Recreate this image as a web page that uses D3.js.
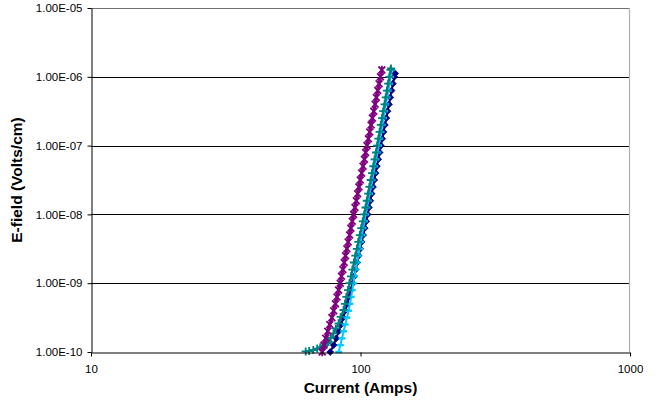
<!DOCTYPE html>
<html>
<head>
<meta charset="utf-8">
<script src="https://d3js.org/d3.v7.min.js"></script>
<style>
body { margin: 0; background: #fff; }
svg { font-family: "Liberation Sans", Arial, sans-serif; }
.tick text { fill: #000; font-size: 11.5px; }
.title { font-size: 15.5px; font-weight: bold; fill: #000; }
</style>
</head>
<body>
<svg width="662" height="400"></svg>
<script>

// tick values and labels
var xTicks = [10, 100, 1000];
var yTicks = [1e-10, 1e-9, 1e-8, 1e-7, 1e-6, 1e-5];
var yTickLabels = ["1.00E-10", "1.00E-09", "1.00E-08", "1.00E-07", "1.00E-06", "1.00E-05"];

// series 1 (navy, diamonds)
var navyAmps = [77.2, 79.5, 81.3, 83.0, 84.8, 86.3, 87.7, 89.3, 90.6, 92.1,
	93.6, 94.8, 96.0, 97.2, 98.5, 99.7, 101.0, 102.3, 103.7, 105.0,
	106.3, 107.5, 108.7, 110.0, 111.3, 112.5, 113.8, 115.0, 116.4, 117.7,
	119.0, 120.4, 121.8, 123.2, 124.7, 126.0, 127.6, 129.0, 130.4, 131.9,
	133.5, 134.5];
var navyField = [1.00e-10, 1.26e-10, 1.58e-10, 2.00e-10, 2.51e-10, 3.16e-10, 3.98e-10, 5.01e-10, 6.31e-10, 7.94e-10,
	1.00e-9, 1.26e-9, 1.58e-9, 2.00e-9, 2.51e-9, 3.16e-9, 3.98e-9, 5.01e-9, 6.31e-9, 7.94e-9,
	1.00e-8, 1.26e-8, 1.58e-8, 2.00e-8, 2.51e-8, 3.16e-8, 3.98e-8, 5.01e-8, 6.31e-8, 7.94e-8,
	1.00e-7, 1.26e-7, 1.58e-7, 2.00e-7, 2.51e-7, 3.16e-7, 3.98e-7, 5.01e-7, 6.31e-7, 7.94e-7,
	1.00e-6, 1.12e-6];

// series 2 (purple, stars)
var purpleAmps = [72.1, 73.2, 74.3, 75.6, 76.9, 78.3, 79.5, 80.7, 81.8, 82.9,
	84.1, 85.0, 86.0, 87.0, 88.0, 89.0, 90.0, 91.1, 92.1, 93.2,
	94.3, 95.4, 96.5, 97.6, 98.7, 99.8, 101.0, 102.2, 103.4, 104.5,
	105.7, 107.0, 108.2, 109.5, 110.7, 112.0, 113.3, 114.5, 115.9, 117.2,
	118.6, 120.0];
var purpleField = [1.00e-10, 1.26e-10, 1.58e-10, 2.00e-10, 2.51e-10, 3.16e-10, 3.98e-10, 5.01e-10, 6.31e-10, 7.94e-10,
	1.00e-9, 1.26e-9, 1.58e-9, 2.00e-9, 2.51e-9, 3.16e-9, 3.98e-9, 5.01e-9, 6.31e-9, 7.94e-9,
	1.00e-8, 1.26e-8, 1.58e-8, 2.00e-8, 2.51e-8, 3.16e-8, 3.98e-8, 5.01e-8, 6.31e-8, 7.94e-8,
	1.00e-7, 1.26e-7, 1.58e-7, 2.00e-7, 2.51e-7, 3.16e-7, 3.98e-7, 5.01e-7, 6.31e-7, 7.94e-7,
	1.00e-6, 1.26e-6];

// series 3 (teal, plus)
var tealAmps = [62.6, 64.5, 66.8, 69.1, 70.9, 72.7, 74.0, 75.2, 76.1, 77.5,
	79.4, 80.9, 82.9, 84.4, 86.5,
	87.5, 88.6, 89.9, 91.0, 92.2, 93.3, 94.5, 95.7, 96.9, 98.1,
	99.4, 100.6, 101.9, 103.2, 104.4, 105.5, 106.7, 107.9, 109.1, 110.3,
	111.6, 112.8, 114.1, 115.3, 116.5, 117.7, 118.9, 120.2, 121.4, 122.8,
	124.0, 125.3, 126.6, 127.9, 129.2, 129.8];
var tealField = [1.02e-10, 1.03e-10, 1.07e-10, 1.12e-10, 1.17e-10, 1.22e-10, 1.26e-10, 1.35e-10, 1.41e-10, 1.60e-10,
	1.87e-10, 2.20e-10, 2.61e-10, 3.23e-10, 4.08e-10,
	5.01e-10, 6.31e-10, 7.94e-10, 1.00e-9, 1.26e-9, 1.58e-9, 2.00e-9, 2.51e-9, 3.16e-9, 3.98e-9,
	5.01e-9, 6.31e-9, 7.94e-9, 1.00e-8, 1.26e-8, 1.58e-8, 2.00e-8, 2.51e-8, 3.16e-8, 3.98e-8,
	5.01e-8, 6.31e-8, 7.94e-8, 1.00e-7, 1.26e-7, 1.58e-7, 2.00e-7, 2.51e-7, 3.16e-7, 3.98e-7,
	5.01e-7, 6.31e-7, 7.94e-7, 1.00e-6, 1.26e-6, 1.32e-6];

// series 4 (light blue, dashes)
var cyanAmps = [83.0, 84.2, 85.4, 86.6, 87.8, 89.1, 90.3, 91.4, 92.4, 93.2,
	94.0, 95.0, 96.0, 97.1, 98.1, 99.2, 100.2, 101.3, 102.3, 103.5,
	104.5, 105.7, 106.9, 108.1, 109.3, 110.5, 111.7, 113.0, 114.3, 115.5,
	116.8, 118.0, 119.2, 120.5, 121.7, 123.0, 124.2, 125.5, 126.8, 128.1,
	129.4, 130.8];
var cyanField = [1.00e-10, 1.26e-10, 1.58e-10, 2.00e-10, 2.51e-10, 3.16e-10, 3.98e-10, 5.01e-10, 6.31e-10, 7.94e-10,
	1.00e-9, 1.26e-9, 1.58e-9, 2.00e-9, 2.51e-9, 3.16e-9, 3.98e-9, 5.01e-9, 6.31e-9, 7.94e-9,
	1.00e-8, 1.26e-8, 1.58e-8, 2.00e-8, 2.51e-8, 3.16e-8, 3.98e-8, 5.01e-8, 6.31e-8, 7.94e-8,
	1.00e-7, 1.26e-7, 1.58e-7, 2.00e-7, 2.51e-7, 3.16e-7, 3.98e-7, 5.01e-7, 6.31e-7, 7.94e-7,
	1.00e-6, 1.26e-6];

// draw order: later entries sit on top
var series = [
	{amps: navyAmps, field: navyField, color: "#000080", marker: "diamond"},
	{amps: cyanAmps, field: cyanField, color: "#00CCFF", marker: "dash"},
	{amps: tealAmps, field: tealField, color: "#008080", marker: "plus"},
	{amps: purpleAmps, field: purpleField, color: "#800080", marker: "star"}
];

//plot area
var plotLeft = 91, plotRight = 630, plotTop = 8, plotBottom = 352;
var svg = d3.select("svg");

var x = d3.scaleLog().domain([10, 1000]).range([plotLeft, plotRight]);
var y = d3.scaleLog().domain([1e-10, 1e-5]).range([plotBottom, plotTop]);

//gridlines
svg.append("g").selectAll("line").data(yTicks.slice(1, 5))
	.enter().append("line")
	.attr("x1", plotLeft).attr("x2", plotRight)
	.attr("y1", function(d) { return Math.round(y(d)) + 0.5; })
	.attr("y2", function(d) { return Math.round(y(d)) + 0.5; })
	.attr("stroke", "#000").attr("stroke-width", 1);

//plot border top and right
svg.append("line").attr("x1", plotLeft).attr("x2", plotRight).attr("y1", plotTop + 0.5).attr("y2", plotTop + 0.5)
	.attr("stroke", "#707070").attr("stroke-width", 1.2);
svg.append("line").attr("x1", plotRight - 0.5).attr("x2", plotRight - 0.5).attr("y1", plotTop).attr("y2", plotBottom)
	.attr("stroke", "#b0b0b0").attr("stroke-width", 1.2);

//markers
function markerPath(m) {
	if (m === "diamond") return "M0,-3.4L3.4,0L0,3.4L-3.4,0Z";
	if (m === "star") return "M-3.4,-3.4L3.4,3.4M-3.4,3.4L3.4,-3.4M0,-4.2V4.2";
	if (m === "plus") return "M-4,0H4M0,-4V4";
	return "M-3.4,0H3.4";
}

var line = d3.line()
	.x(function(d) { return x(d[0]); })
	.y(function(d) { return y(d[1]); });

series.forEach(function(s) {
	var pts = s.amps.map(function(a, i) { return [a, s.field[i]]; });
	var g = svg.append("g");
	g.append("path").datum(pts).attr("d", line)
		.attr("fill", "none").attr("stroke", s.color)
		.attr("stroke-width", s.marker === "star" ? 3 : 2);
	g.selectAll("path.mk").data(pts)
		.enter().append("path").attr("class", "mk")
		.attr("transform", function(d) { return "translate(" + x(d[0]) + "," + y(d[1]) + ")"; })
		.attr("d", markerPath(s.marker))
		.attr("fill", s.marker === "diamond" ? s.color : "none")
		.attr("stroke", s.color)
		.attr("stroke-width", s.marker === "dash" ? 2.4 : (s.marker === "diamond" ? 0.8 : 1.8));
});

//axes
var yAxis = d3.axisLeft(y).tickValues(yTicks)
	.tickFormat(function(d, i) { return yTickLabels[i]; })
	.tickSize(4).tickSizeOuter(0).tickPadding(5);
var gy = svg.append("g").attr("transform", "translate(" + (plotLeft + 0.5) + ",0)").call(yAxis);

var xAxis = d3.axisBottom(x).tickValues(xTicks)
	.tickFormat(function(d) { return d; })
	.tickSize(4).tickSizeOuter(0).tickPadding(8);
var gx = svg.append("g").attr("transform", "translate(0," + (plotBottom + 0.5) + ")").call(xAxis);

[gx, gy].forEach(function(g) {
	g.attr("font-family", null).attr("font-size", null);
	g.selectAll(".domain").attr("stroke", "#000");
	g.selectAll(".tick line").attr("stroke", "#000");
});

//axis titles
svg.append("text").attr("class", "title")
	.attr("x", (plotLeft + plotRight) / 2).attr("y", 393)
	.attr("text-anchor", "middle").text("Current (Amps)");
svg.append("text").attr("class", "title")
	.attr("transform", "translate(22," + ((plotTop + plotBottom) / 2) + ") rotate(-90)")
	.attr("text-anchor", "middle").text("E-field (Volts/cm)");

</script>
</body>
</html>
